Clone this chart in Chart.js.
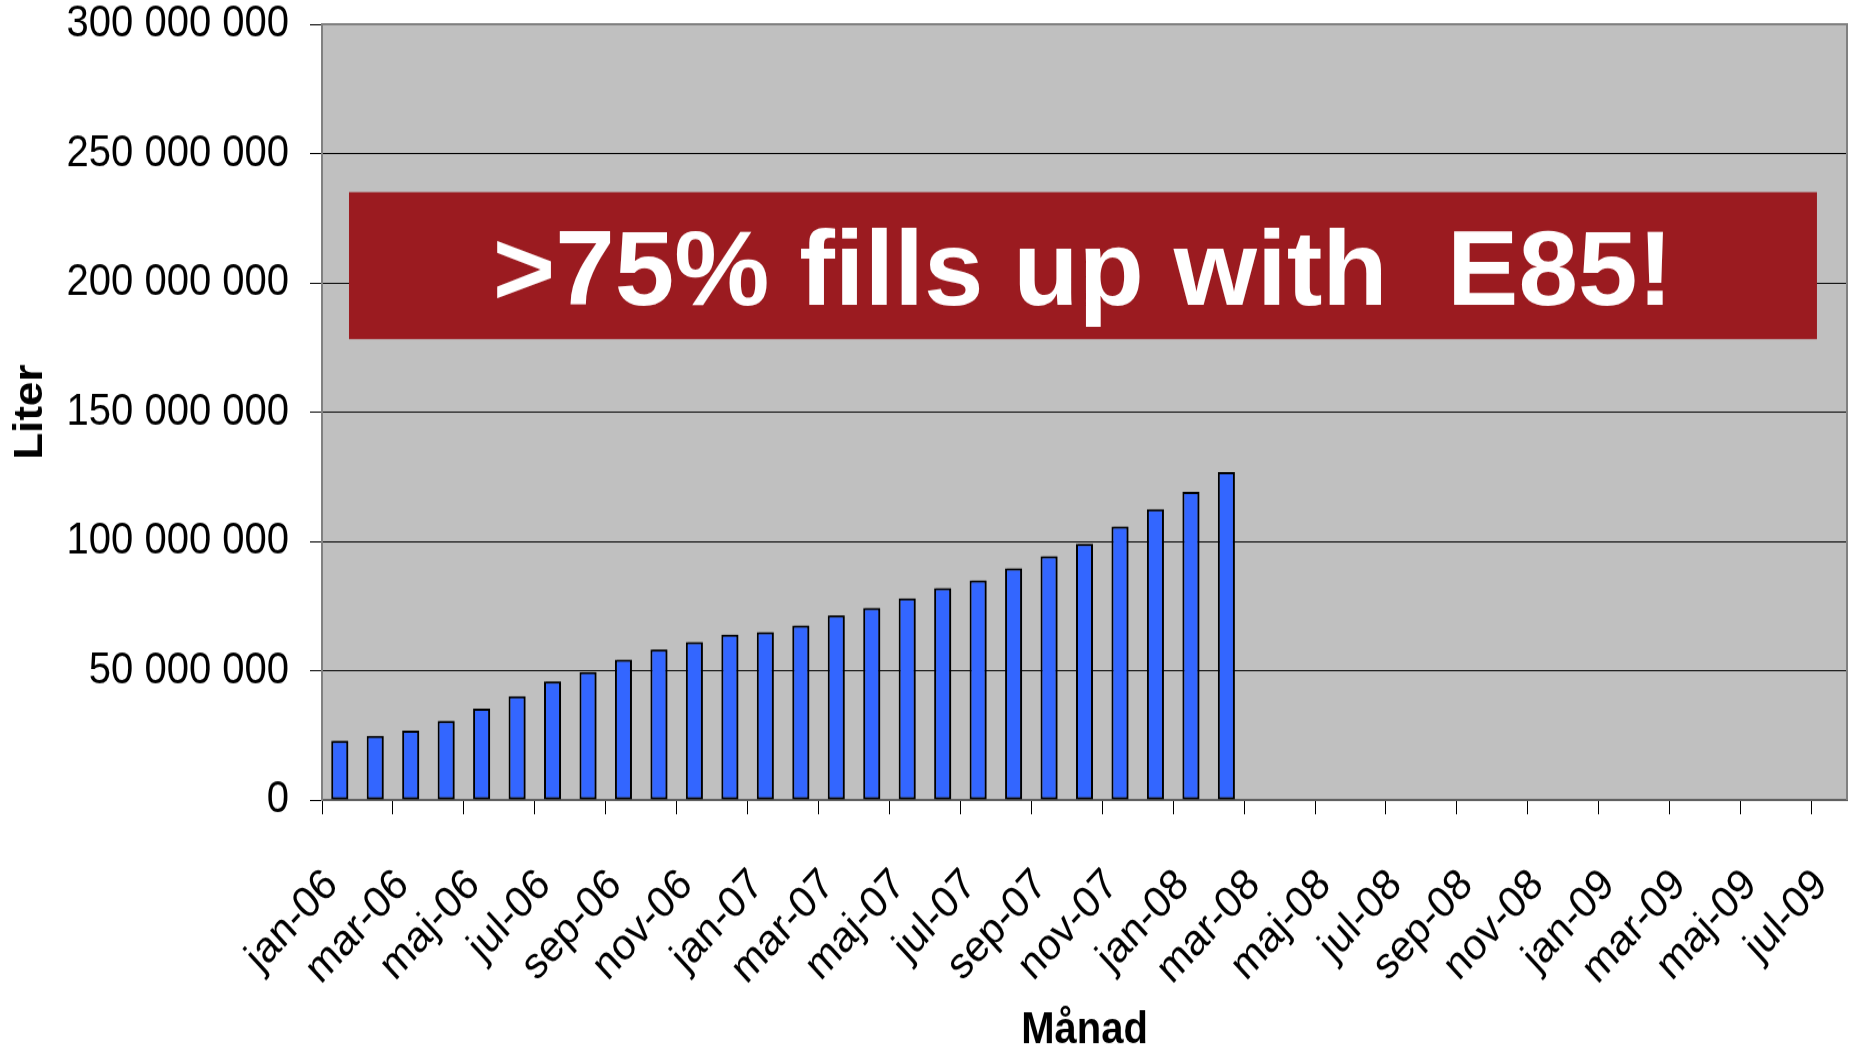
<!doctype html>
<html lang="sv">
<head>
<meta charset="utf-8">
<title>E85 - Liter per månad</title>
<script src="https://cdn.jsdelivr.net/npm/chart.js@4.4.1/dist/chart.umd.min.js"></script>
<style>
  html, body { margin: 0; padding: 0; background: #fff; }
  .wrap { width: 1851px; height: 1053px; overflow: hidden; }
  /* the chart is drawn a bit flatter and stretched to full height */
  #chart { display: block; width: 1851px !important; height: 1053px !important; }
</style>
</head>
<body>
<div class="wrap"><canvas id="chart" width="1851" height="957"></canvas></div>
<script>
const months = [
  'jan-06', 'feb-06', 'mar-06', 'apr-06', 'maj-06', 'jun-06', 'jul-06', 'aug-06', 'sep-06', 'okt-06', 'nov-06', 'dec-06',
  'jan-07', 'feb-07', 'mar-07', 'apr-07', 'maj-07', 'jun-07', 'jul-07', 'aug-07', 'sep-07', 'okt-07', 'nov-07', 'dec-07',
  'jan-08', 'feb-08', 'mar-08', 'apr-08', 'maj-08', 'jun-08', 'jul-08', 'aug-08', 'sep-08', 'okt-08', 'nov-08', 'dec-08',
  'jan-09', 'feb-09', 'mar-09', 'apr-09', 'maj-09', 'jun-09', 'jul-09'
];

const liters = [
  22900000, 24800000, 26800000, 30500000, 35300000, 40100000, 45800000, 49500000,
  54300000, 58200000, 61100000, 63900000, 64900000, 67500000, 71400000, 74300000,
  78000000, 81900000, 84900000, 89600000, 94300000, 99000000, 105700000, 112500000,
  119100000, 126800000
];

const yMax = 300000000;
const yStep = 50000000;
const bannerText = '>75% fills up with  E85!';

const STRETCH = 1053 / 957;
const FONT = '"Liberation Sans", Arial, sans-serif';

Chart.defaults.font.family = FONT;
Chart.defaults.color = '#000';

function spaced(v) {
  return String(v).replace(/\B(?=(\d{3})+(?!\d))/g, ' ');
}

const plotFrame = {
  id: 'plotFrame',
  beforeDraw(chart) {
    const { ctx, chartArea: a } = chart;
    ctx.save();
    ctx.fillStyle = '#c0c0c0';
    ctx.fillRect(a.left, a.top, a.right - a.left, a.bottom - a.top);
    ctx.restore();
  },
  beforeDatasetsDraw(chart) {
    const { ctx, chartArea: a } = chart;
    ctx.save();
    ctx.strokeStyle = '#808080';
    ctx.lineWidth = 2;
    ctx.beginPath();
    ctx.moveTo(a.left, a.top);
    ctx.lineTo(a.right, a.top);
    ctx.lineTo(a.right, a.bottom);
    ctx.stroke();
    ctx.restore();
    // bar shadow
    ctx.save();
    ctx.shadowColor = 'rgba(0,0,0,0.45)';
    ctx.shadowOffsetX = 2;
    ctx.shadowOffsetY = 0;
    ctx.shadowBlur = 0;
  },
  afterDatasetsDraw(chart) {
    chart.ctx.restore();
  },
  afterDraw(chart) {
    // red banner, drawn unstretched
    const { ctx, chartArea: a } = chart;
    const w = a.right - a.left, h = a.bottom - a.top;
    const x0 = a.left + 0.0177 * w, x1 = a.left + 0.9803 * w;
    const y0 = (a.top + 0.2165 * h) * STRETCH, y1 = (a.top + 0.406 * h) * STRETCH;
    ctx.save();
    ctx.scale(1, 1 / STRETCH);
    ctx.fillStyle = '#9b1b20';
    ctx.fillRect(x0, y0, x1 - x0, y1 - y0);
    ctx.fillStyle = '#fff';
    ctx.font = 'bold 107px ' + FONT;
    ctx.textAlign = 'center';
    ctx.textBaseline = 'alphabetic';
    ctx.fillText(bannerText, (x0 + x1) / 2, y0 + 113);
    ctx.restore();
  }
};

new Chart(document.getElementById('chart'), {
  type: 'bar',
  data: {
    labels: months,
    datasets: [{
      label: 'Liter',
      data: liters,
      backgroundColor: '#3366ff',
      borderColor: '#000',
      borderWidth: 2,
      borderSkipped: false,
      barPercentage: 0.48,
      categoryPercentage: 1
    }]
  },
  options: {
    responsive: false,
    animation: false,
    layout: { padding: { top: 22, right: 4, left: 0, bottom: 0 } },
    plugins: {
      legend: { display: false },
      tooltip: { enabled: false }
    },
    scales: {
      x: {
        offset: true,
        ticks: {
          autoSkip: false,
          minRotation: 45,
          maxRotation: 45,
          padding: 41,
          labelOffset: -8,
          font: { size: 40 },
          color: '#000',
          callback(value, index) {
            return index % 2 === 0 ? this.getLabelForValue(value) : '';
          }
        },
        grid: {
          offset: true,
          drawOnChartArea: false,
          tickLength: 13,
          tickColor: (c) => (c.index % 2 === 0 ? '#000' : 'rgba(0,0,0,0)')
        },
        border: { color: '#606060', width: 2 },
        title: {
          display: true,
          text: 'Månad',
          color: '#000',
          font: { size: 40, weight: 'bold', lineHeight: 1 },
          padding: 0
        },
        afterFit(s) {
          s.height = 230;
          s.paddingLeft = 0;
          s.paddingRight = 0;
        }
      },
      y: {
        min: 0,
        max: yMax,
        ticks: {
          stepSize: yStep,
          padding: 21,
          font: { size: 40 },
          color: '#000',
          callback: (v) => spaced(v)
        },
        grid: {
          color: '#000',
          lineWidth: 1,
          tickLength: 12,
          tickColor: '#000'
        },
        border: { color: '#808080', width: 2 },
        title: {
          display: true,
          text: 'Liter',
          color: '#000',
          font: { size: 40, weight: 'bold' },
          padding: { top: 7, bottom: 0 }
        },
        afterFit(s) {
          s.width = 322;
          s.paddingTop = 0;
          s.paddingBottom = 0;
        }
      }
    }
  },
  plugins: [plotFrame]
});
</script>
</body>
</html>
